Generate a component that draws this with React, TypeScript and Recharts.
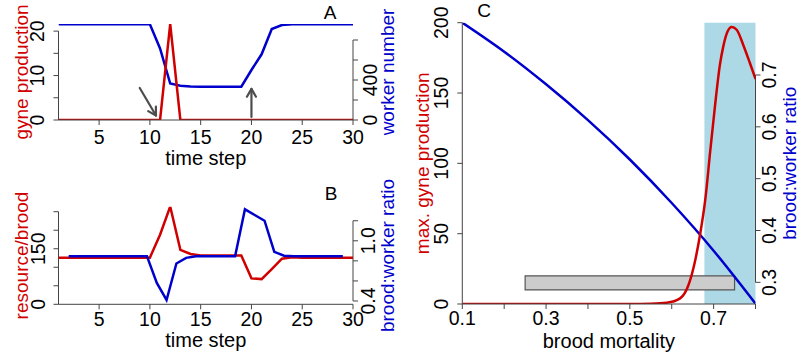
import React from "react";
import { ComposedChart, Line, XAxis, YAxis, ReferenceLine, ReferenceArea } from "recharts";

const FONT = '"Liberation Sans", Arial, Helvetica, sans-serif';
const RED = "#D00000";
const BLUE = "#0000CD";
const AXIS = "#444";
const ARROW = "#4d4d4d";

// ---- panels A and B: time series ----
const timeSteps = [1, 2, 3, 4, 5, 6, 7, 8, 9, 10, 11, 12, 13, 14, 15, 16, 17, 18, 19, 20, 21, 22, 23, 24, 25, 26, 27, 28, 29, 30];
const gyneProduction = [0, 0, 0, 0, 0, 0, 0, 0, 0, 0, 0, 21.6, 0, 0, 0, 0, 0, 0, 0, 0, 0, 0, 0, 0, 0, 0, 0, 0, 0, 0];
const workerNumber = [957, 957, 957, 957, 957, 957, 957, 957, 957, 957, 715, 365, 343, 335, 333, 333, 333, 333, 333, 500, 657, 910, 950, 957, 957, 957, 957, 957, 957, 957];
const resourcePerBrood = [126, 126, 126, 126, 126, 126, 126, 126, 126, 126, 188, 264, 147, 136, 132, 132, 132, 132, 132, 70, 68, 95, 123, 127, 126, 126, 126, 126, 126, 126];
// brood:worker ratio is sampled between steps 2 and 29
const ratioSteps = [2, 2.96, 3.93, 4.89, 5.86, 6.82, 7.79, 8.75, 9.71, 10.68, 11.64, 12.61, 13.57, 14.54, 15.5, 16.46, 17.43, 18.39, 19.36, 20.32, 21.29, 22.25, 23.21, 24.18, 25.14, 26.11, 27.07, 28.04, 29];
const broodWorkerRatio = [0.847, 0.847, 0.847, 0.847, 0.847, 0.847, 0.847, 0.847, 0.847, 0.58, 0.41, 0.774, 0.83, 0.847, 0.847, 0.847, 0.847, 0.847, 1.314, 1.257, 1.2, 0.89, 0.852, 0.847, 0.847, 0.847, 0.847, 0.847, 0.847];

const timeTicks = [5, 10, 15, 20, 25, 30];
const gyneTicksA = [0, 5, 10, 15, 20];
const workerTicksA = [0, 200, 400, 600, 800];
const resourceTicksB = [0, 50, 100, 150, 200, 250];
const ratioTicksB = [0.4, 0.6, 0.8, 1.0, 1.2];

// ---- panel C: brood mortality ----
const mortalityRed = [0.1, 0.3, 0.5, 0.55, 0.588, 0.62, 0.64, 0.656, 0.668, 0.68, 0.692, 0.703, 0.715, 0.723, 0.733, 0.743, 0.755, 0.771, 0.787, 0.8];
const maxGyne = [0, 0, 0, 0.2, 0.9, 4, 13.5, 31, 50, 74, 109, 140, 170, 183, 193.5, 197, 195, 184, 171, 160];
const mortalityBlue = [0.1, 0.2, 0.3, 0.4, 0.5, 0.6, 0.7, 0.8];
const ratioC = [0.801, 0.745, 0.682, 0.613, 0.537, 0.453, 0.361, 0.259];

const mortalityTicks = [0.1, 0.2, 0.3, 0.4, 0.5, 0.6, 0.7, 0.8];
const gyneTicksC = [0, 50, 100, 150, 200];
const ratioTicksC = [0.3, 0.4, 0.5, 0.6, 0.7];

const zip = (xs: number[], ys: number[]) => xs.map((t, i) => ({ t, v: ys[i] }));

const gyneData = zip(timeSteps, gyneProduction);
const workerData = zip(timeSteps, workerNumber);
const resourceData = zip(timeSteps, resourcePerBrood);
const ratioDataB = zip(ratioSteps, broodWorkerRatio);
const gyneDataC = zip(mortalityRed, maxGyne);
const ratioDataC = zip(mortalityBlue, ratioC);

const yTick = (shown: string[], fmt: (v: number) => string) => (p: any) => {
  const label = fmt(p.payload.value);
  if (!shown.includes(label)) return <g />;
  return (
    <text x={p.x} y={p.y} dy="0.36em" transform={`rotate(-90 ${p.x} ${p.y})`} textAnchor="middle"
      fontSize={19.5} fontFamily={FONT} fill="#000">
      {label}
    </text>
  );
};

const xTick = (shown: string[] | null, fmt: (v: number) => string) => (p: any) => {
  const label = fmt(p.payload.value);
  if (shown && !shown.includes(label)) return <g />;
  return (
    <text x={p.x} y={p.y} dy="0.36em" textAnchor="middle" fontSize={19.5} fontFamily={FONT} fill="#000">
      {label}
    </text>
  );
};

const ArrowShape = (p: any) => {
  const { x1, y1, x2, y2 } = p;
  const a = Math.atan2(y2 - y1, x2 - x1);
  const len = 9;
  const s = Math.PI / 6;
  const h1 = `${x2 - len * Math.cos(a - s)},${y2 - len * Math.sin(a - s)}`;
  const h2 = `${x2 - len * Math.cos(a + s)},${y2 - len * Math.sin(a + s)}`;
  return (
    <g stroke={ARROW} strokeWidth={2.2} fill="none" strokeLinecap="round" strokeLinejoin="round">
      <line x1={x1} y1={y1} x2={x2} y2={y2} />
      <polyline points={`${h1} ${x2},${y2} ${h2}`} />
    </g>
  );
};

const int = (v: number) => String(v);
const dec = (v: number) => v.toFixed(1);

const chartBox: React.CSSProperties = { position: "absolute", left: 0, top: 0 };

const PanelA = () => (
  <div style={chartBox}>
    <ComposedChart width={800} height={363} margin={{ top: 24, right: 407, bottom: 213, left: 8.5 }}>
      <XAxis dataKey="t" type="number" domain={[1, 30]} ticks={timeTicks} interval={0} allowDataOverflow
        height={30} tickSize={5} tickMargin={12} stroke={AXIS} tick={xTick(null, int)} />
      <YAxis yAxisId="gyne" type="number" domain={[0, 21.6]} allowDataOverflow ticks={gyneTicksA} interval={0}
        width={50} tickSize={5} tickMargin={17} axisLine={false} tickLine={{ stroke: AXIS }}
        tick={yTick(["0", "10", "20"], int)} />
      <YAxis yAxisId="worker" orientation="right" type="number" domain={[0, 960]} allowDataOverflow ticks={workerTicksA}
        interval={0} width={40} tickSize={5} tickMargin={11.5} axisLine={false} tickLine={{ stroke: AXIS }}
        tick={yTick(["0", "400"], int)} />
      <ReferenceLine yAxisId="gyne" segment={[{ x: 1, y: 0 }, { x: 1, y: 20 }]} stroke={AXIS} ifOverflow="visible" />
      <ReferenceLine yAxisId="worker" segment={[{ x: 30, y: 0 }, { x: 30, y: 800 }]} stroke={AXIS} ifOverflow="visible" />
      <Line yAxisId="worker" data={workerData} dataKey="v" stroke={BLUE} strokeWidth={2.5} dot={false} isAnimationActive={false} />
      <Line yAxisId="gyne" data={gyneData} dataKey="v" stroke={RED} strokeWidth={2.5} dot={false} isAnimationActive={false} />
      <ReferenceLine yAxisId="gyne" segment={[{ x: 9, y: 7.2 }, { x: 10.6, y: 1.0 }]} shape={ArrowShape} ifOverflow="visible" />
      <ReferenceLine yAxisId="gyne" segment={[{ x: 20, y: 0.7 }, { x: 20, y: 7.0 }]} shape={ArrowShape} ifOverflow="visible" />
    </ComposedChart>
  </div>
);

const PanelB = () => (
  <div style={chartBox}>
    <ComposedChart width={800} height={363} margin={{ top: 206.7, right: 407, bottom: 28.7, left: 8.5 }}>
      <XAxis dataKey="t" type="number" domain={[1, 30]} ticks={timeTicks} interval={0} allowDataOverflow
        height={30} tickSize={5} tickMargin={9.5} stroke={AXIS} tick={xTick(null, int)} />
      <YAxis yAxisId="res" type="number" domain={[0, 263.5]} allowDataOverflow ticks={resourceTicksB} interval={0}
        width={50} tickSize={5} tickMargin={16} axisLine={false} tickLine={{ stroke: AXIS }}
        tick={yTick(["0", "150"], int)} />
      <YAxis yAxisId="ratio" orientation="right" type="number" domain={[0.367, 1.34]} allowDataOverflow ticks={ratioTicksB}
        interval={0} width={40} tickSize={5} tickMargin={10.3} axisLine={false} tickLine={{ stroke: AXIS }}
        tick={yTick(["0.4", "1.0"], dec)} />
      <ReferenceLine yAxisId="res" segment={[{ x: 1, y: 0 }, { x: 1, y: 250 }]} stroke={AXIS} ifOverflow="visible" />
      <ReferenceLine yAxisId="ratio" segment={[{ x: 30, y: 0.4 }, { x: 30, y: 1.2 }]} stroke={AXIS} ifOverflow="visible" />
      <Line yAxisId="res" data={resourceData} dataKey="v" stroke={RED} strokeWidth={2.5} dot={false} isAnimationActive={false} />
      <Line yAxisId="ratio" data={ratioDataB} dataKey="v" stroke={BLUE} strokeWidth={2.5} dot={false} isAnimationActive={false} />
    </ComposedChart>
  </div>
);

const PanelC = () => (
  <div style={chartBox}>
    <ComposedChart width={800} height={363} margin={{ top: 22.7, right: 14.5, bottom: 29, left: 422.3 }}>
      <XAxis dataKey="t" type="number" domain={[0.1, 0.8]} ticks={mortalityTicks} interval={0} allowDataOverflow
        height={30} tickSize={5} tickMargin={9.3} stroke={AXIS} tick={xTick(["0.1", "0.3", "0.5", "0.7"], dec)} />
      <YAxis yAxisId="gyneC" type="number" domain={[0, 200]} allowDataOverflow ticks={gyneTicksC} interval={0}
        width={40} tickSize={5} tickMargin={16.5} stroke={AXIS} tick={yTick(["0", "50", "100", "150", "200"], int)} />
      <YAxis yAxisId="ratioC" orientation="right" type="number" domain={[0.2582, 0.8009]} allowDataOverflow ticks={ratioTicksC}
        interval={0} width={30} tickSize={5} tickMargin={8.7} axisLine={false} tickLine={{ stroke: AXIS }}
        tick={yTick(["0.3", "0.4", "0.5", "0.6", "0.7"], dec)} />
      <ReferenceArea yAxisId="gyneC" x1={0.678} x2={0.8} y1={0} y2={200} fill="#ADD8E6" fillOpacity={1} stroke="none" ifOverflow="visible" />
      <ReferenceArea yAxisId="gyneC" x1={0.25} x2={0.75} y1={10} y2={20} fill="#CCCCCC" fillOpacity={1} stroke="#555" strokeWidth={1.2} ifOverflow="visible" />
      <ReferenceLine yAxisId="ratioC" segment={[{ x: 0.8, y: 0.3 }, { x: 0.8, y: 0.7 }]} stroke={AXIS} ifOverflow="visible" />
      <Line yAxisId="ratioC" data={ratioDataC} dataKey="v" type="monotone" stroke={BLUE} strokeWidth={2.5} dot={false} isAnimationActive={false} />
      <Line yAxisId="gyneC" data={gyneDataC} dataKey="v" type="monotone" stroke={RED} strokeWidth={2.5} dot={false} isAnimationActive={false} />
    </ComposedChart>
  </div>
);

const Titles = () => {
  const t = { fontFamily: FONT, fontSize: 19 } as const;
  const v = (x: number, y: number) => `rotate(-90 ${x} ${y})`;
  return (
    <svg width={800} height={363} style={{ position: "absolute", left: 0, top: 0, pointerEvents: "none" }}>
      {/* panel A */}
      <text {...t} x={27.5} y={72} transform={v(27.5, 72)} textAnchor="middle" fill={RED}>gyne production</text>
      <text {...t} x={393.5} y={72} transform={v(393.5, 72)} textAnchor="middle" fill={BLUE}>worker number</text>
      <text {...t} fontSize={20} x={205.8} y={165} textAnchor="middle" fill="#000">time step</text>
      <text {...t} x={330} y={18.5} textAnchor="middle" fill="#000">A</text>
      {/* panel B */}
      <text {...t} x={27.5} y={255.5} transform={v(27.5, 255.5)} textAnchor="middle" fill={RED}>resource/brood</text>
      <text {...t} x={393.5} y={255.5} transform={v(393.5, 255.5)} textAnchor="middle" fill={BLUE}>brood:worker ratio</text>
      <text {...t} fontSize={20} x={205.8} y={347} textAnchor="middle" fill="#000">time step</text>
      <text {...t} x={331} y={200} textAnchor="middle" fill="#000">B</text>
      {/* panel C */}
      <text {...t} x={429} y={163.3} transform={v(429, 163.3)} textAnchor="middle" fill={RED}>max. gyne production</text>
      <text {...t} x={796} y={163.3} transform={v(796, 163.3)} textAnchor="middle" fill={BLUE}>brood:worker ratio</text>
      <text {...t} fontSize={20} x={608.9} y={348} textAnchor="middle" fill="#000">brood mortality</text>
      <text {...t} x={484} y={16.7} textAnchor="middle" fill="#000">C</text>
    </svg>
  );
};

export default function App() {
  return (
    <div style={{ position: "absolute", left: 0, top: 0, width: 800, height: 363, background: "#fff", overflow: "hidden" }}>
      <PanelA />
      <PanelB />
      <PanelC />
      <Titles />
    </div>
  );
}
